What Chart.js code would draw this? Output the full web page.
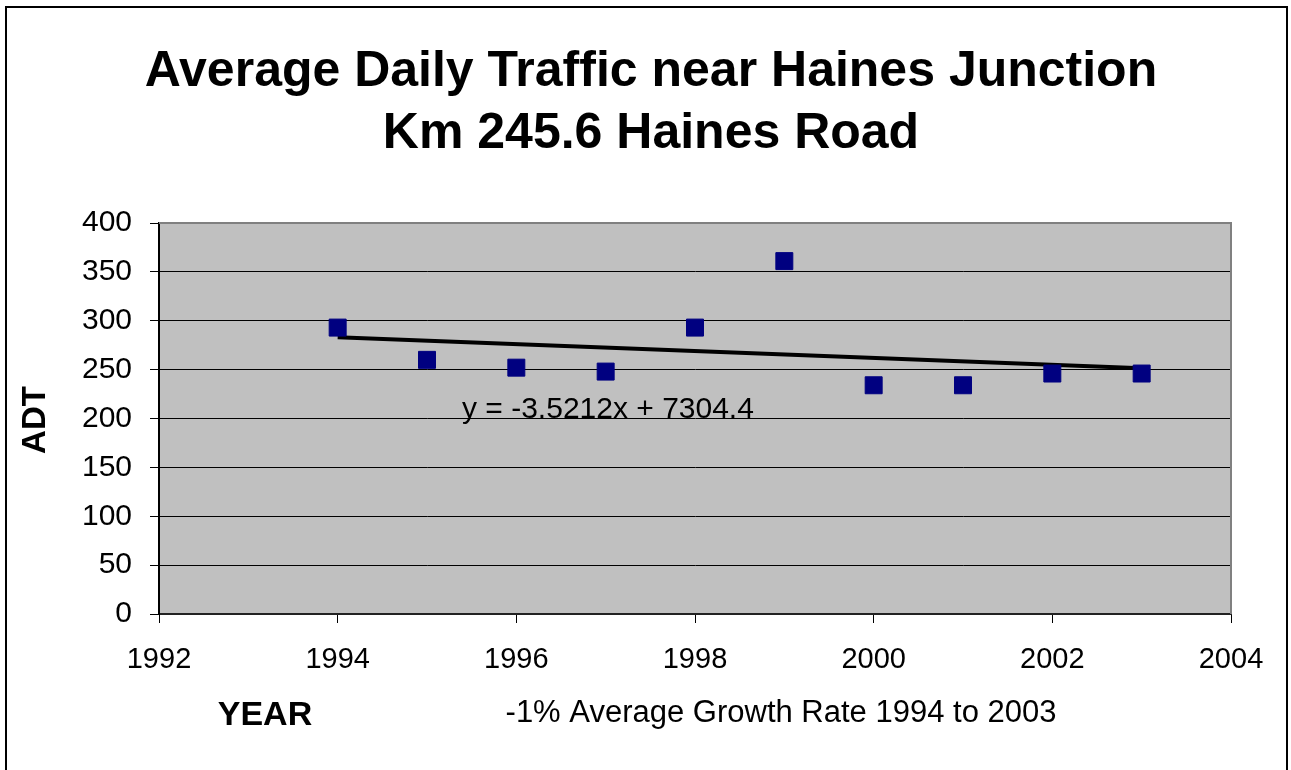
<!DOCTYPE html>
<html>
<head>
<meta charset="utf-8">
<title>Average Daily Traffic near Haines Junction</title>
<script src="https://cdn.jsdelivr.net/npm/chart.js@4"></script>
<style>
  html, body { margin: 0; padding: 0; background: #fff; }
  canvas { display: block; }
</style>
</head>
<body>
<canvas id="adtChart" width="1291" height="770"></canvas>
<script>
// Данные графика
const years = [1994, 1995, 1996, 1997, 1998, 1999, 2000, 2001, 2002, 2003];
const adtValues = [293, 260, 252, 248, 293, 361, 234, 234, 246, 246];

// Линия тренда (y = -3.5212x + 7304.4), концы по годам 1994 и 2003
const trendYears = [1994, 2003];
const trendValues = [283.1, 251.4];

const titleLines = ['Average Daily Traffic near Haines Junction', 'Km 245.6 Haines Road'];
const equationText = 'y = -3.5212x + 7304.4';
const growthNote = '-1% Average Growth Rate 1994 to 2003';

const FONT = "'Liberation Sans', Arial, sans-serif";

// Рамка, фон области построения и подписи
const decorPlugin = {
  id: 'decor',
  beforeDraw(chart) {
    const c = chart.ctx;
    const a = chart.chartArea;
    c.save();
    c.fillStyle = '#c0c0c0';
    c.fillRect(a.left, a.top, a.right - a.left, a.bottom - a.top);
    c.strokeStyle = '#000';
    c.lineWidth = 2;
    c.strokeRect(6, 7, 1281, 800);
    c.restore();
  },
  beforeDatasetsDraw(chart) {
    const c = chart.ctx;
    const a = chart.chartArea;
    c.save();
    c.strokeStyle = '#808080';
    c.lineWidth = 2;
    c.beginPath();
    c.moveTo(a.left, a.top);
    c.lineTo(a.right, a.top);
    c.lineTo(a.right, a.bottom);
    c.stroke();
    c.restore();
  },
  afterDraw(chart) {
    const c = chart.ctx;
    const a = chart.chartArea;
    c.save();
    c.fillStyle = '#000';
    // уравнение тренда
    c.font = '30px ' + FONT;
    c.textAlign = 'left';
    c.textBaseline = 'alphabetic';
    c.fillText(equationText, a.left + 303, 418);
    // подписи осей
    c.font = 'bold 34px ' + FONT;
    c.textAlign = 'center';
    c.textBaseline = 'middle';
    c.fillText('YEAR', 265, 716);
    c.font = '31px ' + FONT;
    c.fillText(growthNote, 781, 713);
    c.translate(36, 420);
    c.rotate(-Math.PI / 2);
    c.font = 'bold 33px ' + FONT;
    c.fillText('ADT', 0, 0);
    c.restore();
  }
};

const ctx = document.getElementById('adtChart').getContext('2d');

new Chart(ctx, {
  type: 'scatter',
  data: {
    datasets: [
      {
        label: 'ADT',
        data: years.map((y, i) => ({ x: y, y: adtValues[i] })),
        pointStyle: 'rect',
        pointRadius: 12,
        pointHoverRadius: 12,
        backgroundColor: '#000080',
        borderColor: '#000080',
        borderWidth: 1,
        showLine: false
      },
      {
        label: 'Trend',
        data: trendYears.map((y, i) => ({ x: y, y: trendValues[i] })),
        showLine: true,
        borderColor: '#000',
        borderWidth: 4,
        pointRadius: 0,
        fill: false
      }
    ]
  },
  options: {
    responsive: false,
    animation: false,
    layout: { padding: { left: 71, right: 60, top: 0, bottom: 0 } },
    plugins: {
      legend: { display: false },
      tooltip: { enabled: false },
      title: {
        display: true,
        text: titleLines,
        color: '#000',
        font: { family: FONT, size: 50, weight: 'bold', lineHeight: 1.24 },
        padding: { top: 41, bottom: 58 }
      }
    },
    scales: {
      x: {
        type: 'linear',
        min: 1992,
        max: 2004,
        afterFit(scale) { scale.height = 156; },
        ticks: {
          stepSize: 2,
          color: '#000',
          padding: 20,
          font: { family: FONT, size: 29 },
          callback: v => String(v)
        },
        grid: {
          drawOnChartArea: false,
          drawTicks: true,
          tickLength: 9,
          tickColor: '#000'
        },
        border: { display: true, color: '#222', width: 2 }
      },
      y: {
        min: 0,
        max: 400,
        afterFit(scale) { scale.width = 88; },
        ticks: {
          stepSize: 50,
          color: '#000',
          padding: 18,
          font: { family: FONT, size: 30 }
        },
        grid: {
          color: c => (c.tick && c.tick.value === 400 ? '#808080' : '#000'),
          lineWidth: 1,
          drawTicks: true,
          tickLength: 9,
          tickColor: '#000'
        },
        border: { display: true, color: '#000', width: 2 }
      }
    }
  },
  plugins: [decorPlugin]
});
</script>
</body>
</html>
